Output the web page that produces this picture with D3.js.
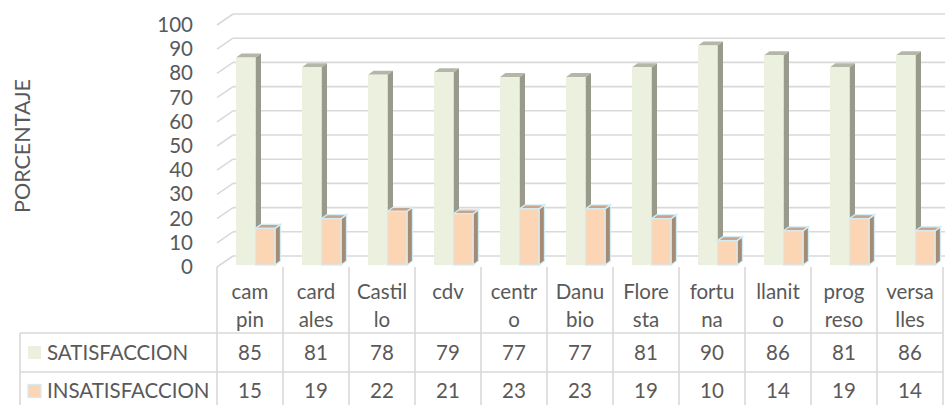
<!DOCTYPE html>
<html>
<head>
<meta charset="utf-8">
<script src="https://cdn.jsdelivr.net/npm/d3@7"></script>
<style>
  body { margin: 0; background: #fff; }
  svg { display: block; font-family: Lato, "Open Sans", sans-serif; }
</style>
</head>
<body>
<svg id="chart"></svg>
<script>
// data
const categories = ["campin", "cardales", "Castillo", "cdv", "centro", "Danubio",
                    "Floresta", "fortuna", "llanito", "progreso", "versalles"]
// how the table header wraps each category name
const labelLines = [["cam", "pin"], ["card", "ales"], ["Castil", "lo"], ["cdv"],
                    ["centr", "o"], ["Danu", "bio"], ["Flore", "sta"], ["fortu", "na"],
                    ["llanit", "o"], ["prog", "reso"], ["versa", "lles"]]
const seriesNames = ["SATISFACCION", "INSATISFACCION"]
const satisfaccion = [85, 81, 78, 79, 77, 77, 81, 90, 86, 81, 86]
const insatisfaccion = [15, 19, 22, 21, 23, 23, 19, 10, 14, 19, 14]
const yTicks = [0, 10, 20, 30, 40, 50, 60, 70, 80, 90, 100]
const yTitle = "PORCENTAJE"

const W = 945, H = 405
const textColor = "#595959"
const gridColor = "#d9d9d9"
const fontSize = 20.5

// colours of front / side / top faces
const faces = {
    SATISFACCION:   { front: "#ebf1de", side: "#989b8c", top: "#b4b7a8", stroke: "none" },
    INSATISFACCION: { front: "#fcd5b5", side: "#a68b74", top: "#c9a48a", stroke: "#d3ecf4" }
}

const svg = d3.select("#chart").attr("width", W).attr("height", H)

// front plane of the 3D box and its back wall offset
const plotLeft = 217, plotRight = 943
const depthX = 16, depthY = -11

const x = d3.scaleBand().domain(categories).range([plotLeft, plotRight])
const xInner = d3.scaleBand().domain(seriesNames).range([19, 58])
const yFront = d3.scaleLinear().domain([0, 100]).range([267, 25])
const yBar = d3.scaleLinear().domain([0, 100]).range([265, 21])

/* back wall gridlines and side wall diagonals */
const grid = svg.append("g").attr("id", "grid")
grid.selectAll("line.back")
    .data(yTicks)
    .enter()
    .append("line")
    .attr("class", "back")
    .attr("x1", plotLeft + depthX)
    .attr("x2", W + 20)
    .attr("y1", function(d) { return yFront(d) + depthY })
    .attr("y2", function(d) { return yFront(d) + depthY })
    .style("stroke", gridColor)
    .style("stroke-width", 1.6)

grid.selectAll("line.side")
    .data(yTicks)
    .enter()
    .append("line")
    .attr("class", "side")
    .attr("x1", plotLeft)
    .attr("x2", plotLeft + depthX)
    .attr("y1", function(d) { return yFront(d) })
    .attr("y2", function(d) { return yFront(d) + depthY })
    .style("stroke", gridColor)
    .style("stroke-width", 1.6)

/* y axis labels */
const yAxis = d3.axisLeft(yFront).tickValues(yTicks).tickSize(0).tickPadding(3)
const yAxisG = svg.append("g")
    .attr("transform", `translate(196,0)`)
    .call(yAxis)
yAxisG.select(".domain").remove()
yAxisG.selectAll("text")
    .style("font-family", "Lato, sans-serif")
    .style("font-size", fontSize + "px")
    .style("fill", textColor)

svg.append("text")
    .attr("transform", "translate(30,146) rotate(-90)")
    .attr("text-anchor", "middle")
    .style("font-size", "21.5px")
    .style("fill", textColor)
    .text(yTitle)

/* 3D bars */
const barData = []
categories.forEach(function(c, i) {
    barData.push({ cat: c, series: "SATISFACCION", value: satisfaccion[i] })
    barData.push({ cat: c, series: "INSATISFACCION", value: insatisfaccion[i] })
})

const bw = xInner.bandwidth()
const bdx = 5.5, bdy = -4

const bars = svg.append("g").attr("id", "bars")
    .selectAll("g")
    .data(barData)
    .enter()
    .append("g")

bars.each(function(d) {
    const g = d3.select(this)
    const f = faces[d.series]
    const x0 = x(d.cat) + xInner(d.series)
    const x1 = x0 + bw
    const y0 = yBar(0)
    const y1 = yBar(d.value)
    // side face
    g.append("path")
        .attr("d", `M${x1} ${y0} L${x1 + bdx} ${y0 + bdy} L${x1 + bdx} ${y1 + bdy} L${x1} ${y1} Z`)
        .style("fill", f.side)
        .style("stroke", f.stroke)
        .style("stroke-width", 1.3)
    // top face
    g.append("path")
        .attr("d", `M${x0} ${y1} L${x0 + bdx} ${y1 + bdy} L${x1 + bdx} ${y1 + bdy} L${x1} ${y1} Z`)
        .style("fill", f.top)
        .style("stroke", f.stroke)
        .style("stroke-width", 1.3)
    // front face
    g.append("rect")
        .attr("x", x0)
        .attr("y", y1)
        .attr("width", bw)
        .attr("height", y0 - y1)
        .style("fill", f.front)
        .style("stroke", f.stroke)
        .style("stroke-width", 1.3)
})

/* data table under the chart */
const tableLeft = 20
const headerTop = 267, row1Top = 333, row2Top = 372, tableBottom = 411
const table = svg.append("g").attr("id", "table")

const colEdges = categories.map(function(c) { return x(c) }).concat([plotRight])
table.selectAll("line.col")
    .data(colEdges)
    .enter()
    .append("line")
    .attr("class", "col")
    .attr("x1", function(d) { return d })
    .attr("x2", function(d) { return d })
    .attr("y1", headerTop)
    .attr("y2", tableBottom)
    .style("stroke", gridColor)
    .style("stroke-width", 1.6)

table.selectAll("line.row")
    .data([row1Top, row2Top, tableBottom])
    .enter()
    .append("line")
    .attr("class", "row")
    .attr("x1", tableLeft)
    .attr("x2", plotRight)
    .attr("y1", function(d) { return d })
    .attr("y2", function(d) { return d })
    .style("stroke", gridColor)
    .style("stroke-width", 1.6)

table.append("line")
    .attr("x1", tableLeft).attr("x2", tableLeft)
    .attr("y1", row1Top).attr("y2", tableBottom)
    .style("stroke", gridColor)
    .style("stroke-width", 1.6)

// category header (wrapped names)
const headers = table.selectAll("text.cat")
    .data(categories)
    .enter()
    .append("text")
    .attr("class", "cat")
    .attr("text-anchor", "middle")
    .style("font-size", fontSize + "px")
    .style("fill", textColor)

headers.each(function(c, i) {
    const t = d3.select(this)
    labelLines[i].forEach(function(line, j) {
        t.append("tspan")
            .attr("x", x(c) + x.bandwidth() / 2)
            .attr("y", 292 + j * 28)
            .attr("dy", "0.35em")
            .text(line)
    })
})

// series rows
const rows = [
    { name: seriesNames[0], values: satisfaccion, top: row1Top, bottom: row2Top },
    { name: seriesNames[1], values: insatisfaccion, top: row2Top, bottom: tableBottom - 1 }
]

rows.forEach(function(r) {
    const cy = (r.top + r.bottom) / 2
    const f = faces[r.name]
    table.append("rect")
        .attr("x", 28)
        .attr("y", cy - 6.5)
        .attr("width", 13)
        .attr("height", 13)
        .style("fill", f.front)
        .style("stroke", f.stroke)
        .style("stroke-width", 1.3)
    table.append("text")
        .attr("x", 47)
        .attr("y", cy)
        .attr("dy", "0.35em")
        .style("font-size", fontSize + "px")
        .style("fill", textColor)
        .text(r.name)
    table.selectAll(null)
        .data(r.values)
        .enter()
        .append("text")
        .attr("x", function(d, i) { return x(categories[i]) + x.bandwidth() / 2 })
        .attr("y", cy)
        .attr("dy", "0.35em")
        .attr("text-anchor", "middle")
        .style("font-size", fontSize + "px")
        .style("fill", textColor)
        .text(function(d) { return d })
})
</script>
</body>
</html>
